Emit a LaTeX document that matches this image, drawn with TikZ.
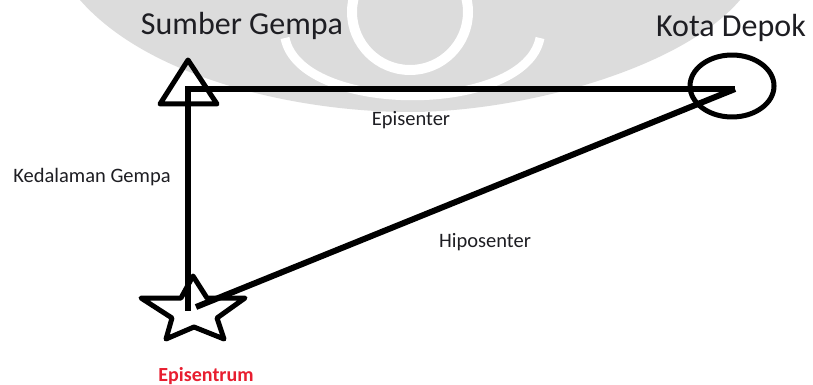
\documentclass[tikz,border=0pt]{standalone}
\usepackage{fontspec}
\setmainfont{Carlito}
\definecolor{wm}{RGB}{220,220,220}
\definecolor{txt}{RGB}{30,30,35}
\definecolor{epired}{RGB}{232,30,48}
\tikzset{
  heavy/.style={line width=6pt, draw=black},
  shapeline/.style={line width=5pt, draw=black, line join=round},
  bigtext/.style={font=\fontsize{32}{36}\selectfont, text=txt, inner sep=0pt, anchor=base},
  smalltext/.style={font=\fontsize{20.5}{24}\selectfont, text=txt, inner sep=0pt, anchor=base},
  redtext/.style={font=\fontsize{20}{24}\selectfont\bfseries, text=epired, inner sep=0pt, anchor=base}
}
\begin{document}
\begin{tikzpicture}[x=1pt,y=-1pt]
\useasboundingbox (0,0) rectangle (813,385);
\fill[white] (0,0) rectangle (813,385);
% watermark
\fill[wm] (80,0) .. controls (150,80) and (300,112) .. (410,112)
  .. controls (520,112) and (680,70) .. (740,0) -- cycle;
\draw[white, line width=9pt] (285,38) .. controls (300,115) and (525,115) .. (540,38);
\draw[white, line width=10pt] (410,12) circle (58);
% labels
\node[bigtext] (lsumber) at (242,35) {Sumber Gempa};
\node[bigtext] (lkota) at (731,37) {Kota Depok};
\node[smalltext] (ldalam) at (92,182) {Kedalaman Gempa};
\node[smalltext] (lepi) at (411,125) {Episenter};
\node[smalltext] (lhipo) at (485,247) {Hiposenter};
\node[redtext] (lepitrum) at (206,381) {Episentrum};
% points
\coordinate (sumber) at (188,89);
\coordinate (kota) at (735,89);
\coordinate (pusat) at (188,311);
\coordinate (hipoend) at (196,307);
% triangle (sumber gempa)
\draw[shapeline] (188,60) -- (217,104) -- (160,104) -- cycle;
% ellipse (kota depok)
\draw[shapeline] (732,86) ellipse [x radius=42, y radius=31];
% star (episentrum)
\draw[shapeline] (193,276) -- (207,298) -- (245,298) -- (217,318) -- (224,339)
  -- (194,327) -- (166,339) -- (172,318) -- (141,298) -- (181,298) -- cycle;
% connectors
\draw[heavy, line join=miter] (kota) -- (sumber) -- (pusat);
\draw[heavy] (kota) -- (hipoend);
\end{tikzpicture}
\end{document}
